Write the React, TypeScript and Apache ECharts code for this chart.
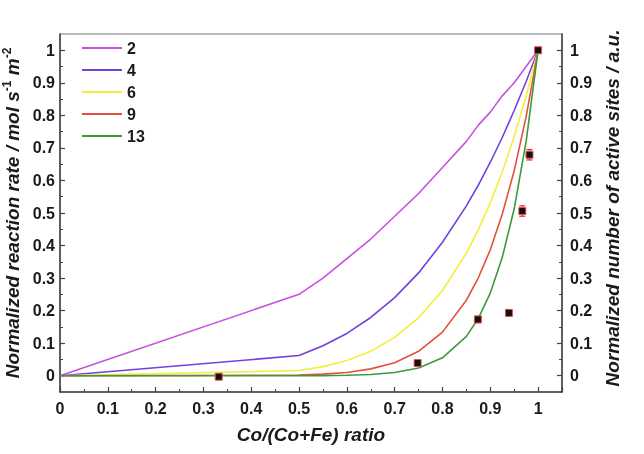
import React, { useEffect, useRef } from "react";
import * as echarts from "echarts";

const xs = [0, 0.5, 0.55, 0.6, 0.65, 0.7, 0.75, 0.8, 0.85, 0.875, 0.9, 0.925, 0.95, 0.975, 1];
const seriesNames = ["2", "4", "6", "9", "13"];
const seriesColors = ["#c94fe0", "#7340e0", "#f2ee3c", "#e4503c", "#3d9a3a"];
const curve2 = [0, 0.25, 0.3, 0.36, 0.42, 0.49, 0.56, 0.64, 0.72, 0.77, 0.81, 0.86, 0.9, 0.95, 1];
const curve4 = [0, 0.062, 0.092, 0.13, 0.179, 0.24, 0.316, 0.41, 0.522, 0.586, 0.656, 0.732, 0.815, 0.904, 1];
const curve6 = [0, 0.016, 0.028, 0.047, 0.075, 0.118, 0.178, 0.262, 0.377, 0.449, 0.531, 0.626, 0.735, 0.859, 1];
const curve9 = [0, 0.002, 0.005, 0.01, 0.021, 0.04, 0.075, 0.134, 0.232, 0.301, 0.387, 0.496, 0.63, 0.796, 1];
const curve13 = [0, 0.0001, 0.0004, 0.0013, 0.0037, 0.0097, 0.024, 0.055, 0.121, 0.176, 0.254, 0.363, 0.513, 0.72, 1];
const curves = [curve2, curve4, curve6, curve9, curve13];

const expX = [0.332, 0.748, 0.874, 0.939, 0.967, 0.982, 1];
const expY = [-0.003, 0.039, 0.173, 0.193, 0.506, 0.679, 1];
const expErr = [0.006, 0.008, 0.01, 0.01, 0.016, 0.016, 0.006];

const yTicks = [0, 0.1, 0.2, 0.3, 0.4, 0.5, 0.6, 0.7, 0.8, 0.9, 1];
const yMinorTicks = [0.05, 0.15, 0.25, 0.35, 0.45, 0.55, 0.65, 0.75, 0.85, 0.95];

const FONT = "'Liberation Sans', Arial, sans-serif";
const AXIS_COLOR = "#444";

function fmt(v: number) {
  return String(Math.round(v * 10) / 10);
}

export default function App() {
  const ref = useRef<HTMLDivElement>(null);
  useEffect(() => {
    if (!ref.current) return;
    const chart = echarts.init(ref.current, null, { renderer: "svg" });
    const labelStyle = {
      fontFamily: FONT,
      fontWeight: "bold" as const,
      fontSize: 16,
      color: "#1a1a1a",
    };
    const nameStyle = {
      fontFamily: FONT,
      fontWeight: "bold" as const,
      fontStyle: "italic" as const,
      fontSize: 19,
      color: "#1a1a1a",
    };
    const yAxisMain = (pos: "left" | "right") => ({
      type: "value" as const,
      position: pos,
      min: -0.05,
      max: 1.05,
      axisLine: { show: true, onZero: false, lineStyle: { color: AXIS_COLOR, width: 1.5 } },
      axisTick: { show: true, inside: true, length: 5, customValues: yTicks, lineStyle: { color: AXIS_COLOR, width: 1.2 } },
      splitLine: { show: false },
      axisLabel: {
        ...labelStyle,
        margin: pos === "left" ? 5 : 8,
        customValues: yTicks,
        formatter: (v: number) => fmt(v),
      },
    });
    const yAxisMinor = (pos: "left" | "right") => ({
      type: "value" as const,
      position: pos,
      min: -0.05,
      max: 1.05,
      axisLine: { show: false },
      axisTick: { show: true, inside: true, length: 3, customValues: yMinorTicks, lineStyle: { color: AXIS_COLOR, width: 1 } },
      splitLine: { show: false },
      axisLabel: { show: false },
    });
    const option: any = {
      animation: false,
      grid: {
        left: 60,
        right: 82,
        top: 34,
        bottom: 62,
        show: true,
        borderColor: "#777",
        borderWidth: 1.2,
        backgroundColor: "transparent",
        containLabel: false,
        outerBoundsMode: "none",
      },
      legend: {
        orient: "vertical",
        left: 77,
        top: 35,
        itemGap: 6,
        itemWidth: 40,
        itemHeight: 16,
        icon: "path://M0,7 L40,7 L40,9 L0,9 Z",
        textStyle: { ...labelStyle, fontSize: 16, padding: [0, 0, 0, 0] },
        data: seriesNames,
      },
      xAxis: {
        type: "value",
        min: 0,
        max: 1.05,
        interval: 0.1,
        name: "Co/(Co+Fe) ratio",
        nameLocation: "middle",
        nameGap: 33,
        nameTextStyle: nameStyle,
        axisLine: { show: true, onZero: false, lineStyle: { color: AXIS_COLOR, width: 1.5 } },
        axisTick: { show: true, inside: true, length: 5, lineStyle: { color: AXIS_COLOR, width: 1.2 } },
        minorTick: { show: true, splitNumber: 2, length: 3, lineStyle: { color: AXIS_COLOR, width: 1 } },
        splitLine: { show: false },
        axisLabel: {
          ...labelStyle,
          margin: 8,
          showMaxLabel: false,
          formatter: (v: number) => (v > 1.001 ? "" : fmt(v)),
        },
      },
      yAxis: [
        {
          ...yAxisMain("left"),
          name: "{n|Normalized reaction rate / mol s}{s|-1}{n| m}{s|-2}",
          nameLocation: "middle",
          nameRotate: 90,
          nameGap: 36,
          nameTextStyle: {
            ...nameStyle,
            rich: {
              n: { ...nameStyle },
              s: { ...nameStyle, fontStyle: "normal", fontSize: 12, verticalAlign: "top", padding: [0, 0, 10, 0] },
            },
          },
        },
        {
          ...yAxisMain("right"),
          name: "Normalized number of active sites / a.u.",
          nameLocation: "middle",
          nameRotate: 90,
          nameGap: 40,
          nameTextStyle: { ...nameStyle, padding: [0, 0, 0, 10] },
        },
        yAxisMinor("left"),
        yAxisMinor("right"),
      ],
      series: [
        ...seriesNames.map((name, i) => ({
          name,
          type: "line",
          data: xs.map((x, j) => [x, curves[i][j]]),
          showSymbol: false,
          symbol: "none",
          lineStyle: { color: seriesColors[i], width: 1.6 },
          itemStyle: { color: seriesColors[i] },
          z: 2 + i,
        })),
        {
          type: "custom",
          yAxisIndex: 1,
          z: 10,
          data: expX.map((x, i) => [x, expY[i], expErr[i]]),
          renderItem: (params: any, api: any) => {
            const x = api.value(0);
            const y = api.value(1);
            const e = api.value(2);
            const top = api.coord([x, y + e]);
            const bot = api.coord([x, y - e]);
            const c = api.coord([x, y]);
            const cap = 3;
            return {
              type: "group",
              children: [
                { type: "line", shape: { x1: top[0], y1: top[1], x2: bot[0], y2: bot[1] }, style: { stroke: "#e03030", lineWidth: 1.2 } },
                { type: "line", shape: { x1: top[0] - cap, y1: top[1], x2: top[0] + cap, y2: top[1] }, style: { stroke: "#e03030", lineWidth: 1.2 } },
                { type: "line", shape: { x1: bot[0] - cap, y1: bot[1], x2: bot[0] + cap, y2: bot[1] }, style: { stroke: "#e03030", lineWidth: 1.2 } },
                { type: "rect", shape: { x: c[0] - 3.5, y: c[1] - 3.5, width: 7, height: 7 }, style: { fill: "#111", stroke: "#e85050", lineWidth: 1 } },
              ],
            };
          },
        },
      ],
    };
    chart.setOption(option);
    return () => chart.dispose();
  }, []);
  return <div ref={ref} style={{ position: "fixed", left: 0, top: 0, width: 644, height: 454 }} />;
}
